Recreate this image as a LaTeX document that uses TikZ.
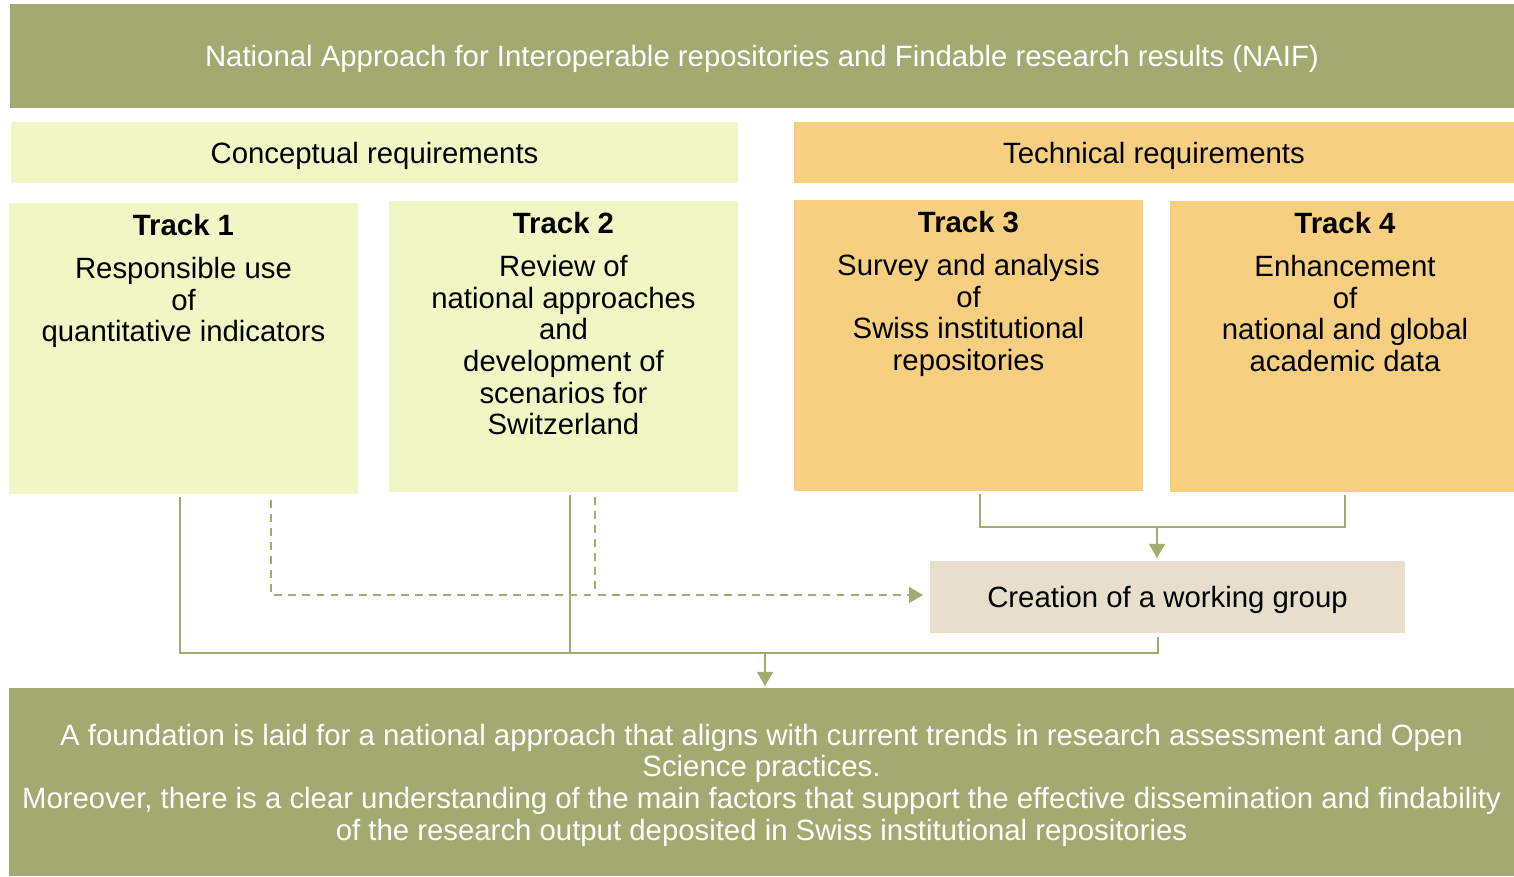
\documentclass[tikz,border=0pt]{standalone}
\usepackage{fontspec}
\setmainfont{Liberation Sans}
\usetikzlibrary{arrows.meta,calc}
\definecolor{olive}{RGB}{162,170,114}
\definecolor{lineol}{RGB}{163,171,112}
\definecolor{concept}{RGB}{240,247,196}
\definecolor{techc}{RGB}{246,207,128}
\definecolor{wgc}{RGB}{231,223,204}
\tikzset{
  box/.style={draw=none, inner sep=0pt, outer sep=0pt, text depth=0pt, font=\fontsize{16.7}{18}\selectfont, align=center},
  header/.style={box, fill=olive, text=white},
  trackbox/.style={draw=none, inner sep=0pt, outer sep=0pt, minimum width=6.98cm, minimum height=5.82cm},
  tracktext/.style={inner sep=0pt, anchor=north, font=\fontsize{16.7}{18}\selectfont, align=center},
  conn/.style={draw=lineol, line width=1.2pt},
  dconn/.style={draw=lineol, line width=1.2pt, dash pattern=on 4.5pt off 3.5pt},
  tip/.style={-{Triangle[length=8pt,width=9pt]}},
}
\begin{document}
\begin{tikzpicture}[x=0.02cm,y=-0.02cm]
\useasboundingbox (0,0) rectangle (1514,876);
% header
\node[header, minimum width=30.08cm, minimum height=2.08cm] (naif) at (762,56) {National Approach for Interoperable repositories and Findable research results (NAIF)};
% requirement bars
\node[box, fill=concept, minimum width=14.54cm, minimum height=1.22cm] (concept) at (374.5,152.5) {Conceptual requirements};
\node[box, fill=techc, minimum width=14.4cm, minimum height=1.22cm] (tech) at (1154,152.5) {Technical requirements};
% tracks
\node[trackbox, fill=concept] (t1) at (183.5,348.5) {};
\node[trackbox, fill=concept] (t2) at (563.5,346.5) {};
\node[trackbox, fill=techc] (t3) at (968.5,345.5) {};
\node[trackbox, fill=techc, minimum width=6.88cm] (t4) at (1342,346.5) {};
\node[tracktext] (t1txt) at ([yshift=-0.22cm]t1.north) {{\bfseries Track 1}\\[6.5pt]Responsible use\\of\\quantitative indicators};
\node[tracktext] (t2txt) at ([yshift=-0.22cm]t2.north) {{\bfseries Track 2}\\[6.5pt]Review of\\national approaches\\and\\development of\\scenarios for\\Switzerland};
\node[tracktext] (t3txt) at ([yshift=-0.22cm]t3.north) {{\bfseries Track 3}\\[6.5pt]Survey and analysis\\of\\Swiss institutional\\repositories};
\node[tracktext] (t4txt) at ([xshift=0.06cm,yshift=-0.22cm]t4.north) {{\bfseries Track 4}\\[6.5pt]Enhancement\\of\\national and global\\academic data};
% working group
\node[box, fill=wgc, minimum width=9.5cm, minimum height=1.44cm] (wg) at (1167.5,597) {Creation of a working group};
% outcome
\node[header, minimum width=30.1cm, minimum height=3.76cm] (out) at (761.5,782) {A foundation is laid for a national approach that aligns with current trends in research assessment and Open\\Science practices.\\Moreover, there is a clear understanding of the main factors that support the effective dissemination and findability\\of the research output deposited in Swiss institutional repositories};
% coordinates
\coordinate (jb) at (765,653);
\coordinate (jt) at (1157,527);
% track 3/4 to working group
\draw[conn] ([xshift=0.23cm,yshift=-0.06cm]t3.south) |- (jt) -| ([xshift=0.06cm,yshift=-0.06cm]t4.south);
\draw[conn, tip] (jt) -- ([yshift=0.06cm]jt |- wg.north);
% dashed from tracks 1/2 to working group
\draw[dconn, tip] ([xshift=1.75cm,yshift=-0.12cm]t1.south) |- ([xshift=-0.14cm,yshift=0.04cm]wg.west);
\draw[dconn] ([xshift=0.63cm,yshift=-0.1cm]t2.south) -- ([xshift=0.63cm]t2.south |- 0,595);
% solid to outcome
\draw[conn] ([xshift=-0.07cm,yshift=-0.06cm]t1.south) |- (jb) -| ([xshift=-0.19cm,yshift=-0.08cm]wg.south);
\draw[conn] ([xshift=0.13cm,yshift=-0.06cm]t2.south) -- ([xshift=0.13cm]t2.south |- jb);
\draw[conn, tip] (jb) -- ([yshift=0.04cm]jb |- out.north);
\end{tikzpicture}
\end{document}
